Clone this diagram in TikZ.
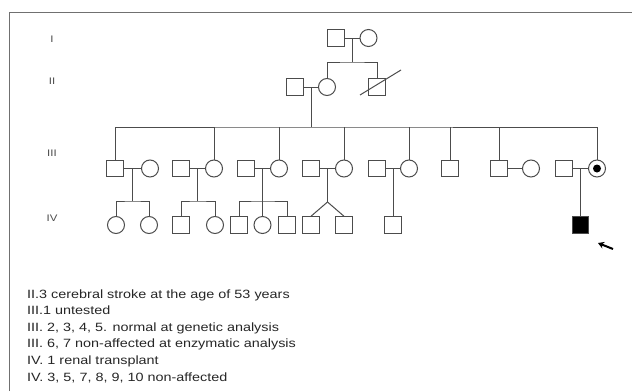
\documentclass[tikz,border=0pt]{standalone}
\usepackage{fontspec}
\setmainfont{Liberation Sans}[FakeStretch=1.2]
\usetikzlibrary{arrows.meta}
\definecolor{pedgray}{gray}{0.3}

\begin{document}
\begin{tikzpicture}[x=1pt,y=-1pt,
    ped/.style={draw=pedgray,line width=1pt},
    male/.style={ped,rectangle,minimum size=16.5pt,inner sep=0pt},
    female/.style={ped,circle,minimum size=17pt,inner sep=0pt},
    affected/.style={male,fill=black},
    gen/.style={inner sep=0pt,text=pedgray,font=\fontsize{9.5}{11}\selectfont},
    note/.style={anchor=base west,inner sep=0pt,text=black!85,font=\fontsize{12}{14}\selectfont},
    pointer/.style={draw=black,line width=2pt,-{Stealth[length=6pt,width=7pt]}}]
    \useasboundingbox (0,0) rectangle (632,391);
    \draw[pedgray!80,line width=1pt] (9,391) -- (9,12) -- (632,12);
    %\draw[loosely dotted] (0,0) grid[step=50] (632,391);

    % generation numbers
    \foreach \g/\y in {I/39.5, II/81, III/153.5, IV/218.5}
    \node[gen] (gen\g) at (52,\y) {\g};

    % generation I
    \node[male] (i1) at (336,38) {};
    \node[female] (i2) at (368.5,38) {};
    \draw[ped] (i1) -- (i2);
    \coordinate (ji) at (352,38);
    \coordinate (bi) at (352,62);
    \draw[ped] (ji) -- (bi);

    % generation II
    \node[male] (ii1) at (295,87) {};
    \node[female] (ii2) at (327,87) {};
    \node[male] (ii3) at (377,87) {};
    \draw[ped] (ii2.north) |- (bi) -| (ii3.north);
    \draw[ped] (ii1) -- (ii2);
    \draw[ped] (ii3.center) ++(-17,8) -- ++(41,-25);
    \coordinate (jii) at (311.5,87);
    \coordinate (bii) at (311.5,127);
    \draw[ped] (jii) -- (bii);

    % generation III
    \foreach \n/\x/\s in {1/115/male, 2/150/female, 3/181/male, 4/214/female,
        5/246/male, 6/279/female, 7/311/male, 8/344/female, 9/377/male,
        10/409/female, 11/450/male, 12/499/male, 13/531/female, 14/564/male,
        15/597/female}
    \node[\s] (iii\n) at (\x,168.5) {};
    \fill[black] (iii15) circle (4);
    \draw[ped] (iii1.north) |- (bii) -| (iii15.north);
    \foreach \n in {4,6,8,10,11,12}
    \draw[ped] (iii\n.north) -- (iii\n.north |- bii);
    \foreach \m/\f in {1/2, 3/4, 5/6, 7/8, 9/10, 12/13, 14/15}
    \draw[ped] (iii\m) -- (iii\f);
    \foreach \j/\x in {1/132.5, 2/197.5, 3/262.5, 4/327.5, 5/393, 6/580.5}
    \coordinate (jiii\j) at (\x,168.5);

    % generation IV
    \foreach \n/\x/\s in {1/116/female, 2/149/female, 3/181/male, 4/215/female,
        5/239/male, 6/262.5/female, 7/287/male, 8/311/male, 9/344/male,
        10/393/male, 11/580.5/affected}
    \node[\s] (iv\n) at (\x,225) {};
    \coordinate (b1) at (132.5,201);
    \coordinate (b2) at (197.5,201);
    \coordinate (b3) at (262.5,201);
    \coordinate (b4) at (327.5,202);
    \draw[ped] (jiii1) -- (b1);
    \draw[ped] (iv1.north) |- (b1) -| (iv2.north);
    \draw[ped] (jiii2) -- (b2);
    \draw[ped] (iv3.north) |- (b2) -| (iv4.north);
    \draw[ped] (jiii3) -- (iv6.north);
    \draw[ped] (iv5.north) |- (b3) -| (iv7.north);
    \draw[ped] (jiii4) -- (b4);
    \draw[ped] (b4) -- (iv8.north);
    \draw[ped] (b4) -- (iv9.north);
    \draw[ped] (jiii5) -- (iv10.north);
    \draw[ped] (jiii6) -- (iv11.north);

    % proband
    \coordinate (pa) at (613,249);
    \coordinate (pb) at (598,243);
    \draw[pointer] (pa) -- (pb);

    % notes
    \foreach \n/\txt in {1/{II.3 cerebral stroke at the age of 53 years},
        2/{III.1 untested},
        3/{III. 2, 3, 4, 5. normal at genetic analysis},
        4/{III. 6, 7 non-affected at enzymatic analysis},
        5/{IV. 1 renal transplant},
        6/{IV. 3, 5, 7, 8, 9, 10 non-affected}}
    \node[note] (note\n) at (27,{281.4+16.6*\n}) {\txt};
\end{tikzpicture}
\end{document}
